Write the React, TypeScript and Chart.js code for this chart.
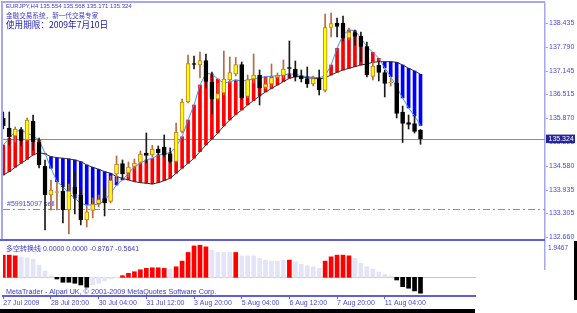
import React, { useEffect, useRef } from 'react';
import { Chart, registerables } from 'chart.js';
Chart.register(...registerables);

// ---------- data ----------
const TIME_TICK_BARS = [0, 8, 16, 24, 32, 40, 48, 56, 64];
const TIME_LABELS = ['27 Jul 2009', '28 Jul 20:00', '30 Jul 04:00', '31 Jul 12:00', '3 Aug 20:00', '5 Aug 04:00', '6 Aug 12:00', '7 Aug 20:00', '11 Aug 04:00'];
const PRICE_TICKS = [132.66, 133.305, 133.935, 134.58, 135.225, 135.87, 136.515, 137.145, 137.79, 138.435];

const OPEN = [135.880,135.610,135.394,135.570,135.286,135.799,135.232,134.585,133.802,133.870,133.910,133.398,134.018,133.802,133.128,133.384,133.573,133.708,133.627,134.369,134.652,134.396,134.571,134.679,134.936,134.882,135.044,135.098,134.909,134.706,135.516,136.312,137.351,137.310,137.432,136.851,136.393,136.555,136.905,137.067,137.324,136.460,136.932,137.040,136.703,136.797,136.973,137.027,137.243,137.202,137.013,136.946,136.797,136.946,136.622,138.322,138.443,138.443,138.039,138.187,138.093,137.809,137.000,137.310,137.108,136.824,136.824,136.042,135.759,135.732,135.554];
const HIGH = [136.042,136.042,135.637,135.624,135.880,135.961,135.340,134.747,134.207,134.153,134.099,134.099,134.423,133.937,133.506,133.721,133.802,133.991,134.315,134.855,134.747,134.693,134.774,134.990,135.475,135.138,135.124,135.421,135.071,135.745,136.393,137.580,137.553,137.661,137.607,137.121,136.824,137.688,137.526,137.512,137.391,137.040,137.607,137.175,136.959,137.337,137.094,137.445,137.958,137.418,137.175,137.256,137.013,137.175,138.686,138.713,138.578,138.632,138.308,138.255,138.201,137.931,137.391,137.405,137.175,136.959,136.959,136.204,135.961,135.934,135.568];
const LOW = [135.583,135.151,135.232,135.124,135.259,135.017,134.531,132.858,133.398,133.398,133.047,132.750,133.290,132.993,132.939,133.182,133.479,133.236,133.586,134.153,134.234,134.288,134.504,134.639,134.666,134.828,134.882,134.828,134.666,134.693,135.475,136.285,137.202,136.959,136.689,135.988,136.366,136.501,136.824,137.013,136.366,136.420,136.824,136.231,136.663,136.716,136.959,136.959,136.959,136.878,136.851,136.703,136.743,136.501,136.582,138.066,138.066,137.958,137.985,137.836,137.405,136.986,136.905,136.878,136.447,136.743,135.880,135.219,135.583,135.475,135.171];
const CLOSE = [135.664,135.367,135.583,135.273,135.826,135.232,134.612,133.802,133.937,133.883,133.398,133.910,133.829,133.128,133.344,133.559,133.681,133.586,134.194,134.639,134.369,134.558,134.666,134.909,134.868,135.044,134.936,134.882,134.706,135.502,136.312,137.351,137.324,137.432,136.865,136.393,136.541,136.932,137.108,137.324,136.420,136.919,137.040,136.689,136.797,136.973,137.027,137.202,137.216,136.986,136.932,136.797,136.946,136.636,138.322,138.430,138.349,138.039,138.201,138.079,137.809,137.040,137.283,137.108,136.811,136.838,136.001,135.732,135.705,135.516,135.324];

const SPAN_A = [135.151,135.332,135.510,135.556,135.467,135.394,135.286,134.927,134.523,134.161,134.026,133.848,133.713,133.578,133.532,133.532,133.559,133.648,133.848,134.072,134.207,134.388,134.566,134.658,134.747,134.793,134.882,134.909,134.944,135.106,135.375,135.826,136.231,136.770,137.086,137.067,136.932,136.816,136.860,136.905,136.878,136.897,136.932,136.967,136.994,137.005,137.021,137.040,137.067,137.059,137.021,136.994,136.978,136.967,137.013,137.310,137.761,138.120,138.255,138.236,138.039,137.804,137.653,137.491,137.229,136.994,136.716,136.420,136.150,135.934,135.678];
const SPAN_B = [134.342,134.431,134.550,134.658,134.766,134.882,134.944,134.909,134.836,134.809,134.793,134.774,134.747,134.701,134.612,134.550,134.496,134.431,134.388,134.296,134.253,134.207,134.161,134.134,134.118,134.099,134.134,134.188,134.253,134.388,134.523,134.658,134.793,134.971,135.151,135.313,135.475,135.664,135.826,135.974,136.096,136.231,136.352,136.474,136.582,136.676,136.770,136.860,136.951,136.994,136.994,136.967,136.951,136.932,136.967,137.040,137.113,137.175,137.221,137.264,137.310,137.337,137.383,137.399,137.399,137.399,137.383,137.310,137.221,137.148,137.059];

const OSC = [1.222,1.222,1.184,1.129,1.074,1.003,0.674,0.345,0.088,-0.093,-0.274,-0.274,-0.329,-0.422,-0.548,-0.422,-0.329,-0.203,-0.093,-0.030,0.088,0.219,0.307,0.416,0.493,0.526,0.526,0.493,0.455,0.581,0.893,1.370,1.730,1.770,1.680,1.500,1.370,1.370,1.370,1.370,1.184,1.184,1.184,1.040,0.948,0.893,0.893,0.948,0.948,0.855,0.712,0.636,0.581,0.493,0.893,1.129,1.222,1.222,1.184,1.040,0.767,0.581,0.455,0.290,0.153,0.071,-0.148,-0.515,-0.603,-0.751,-0.8767];
const OSC_STATE = 'RRRLLLLLLBBBBBBLLLLLRRRRRRRRLRRRRRRLLLLRLLLLLLLLRLLLLLRRRRRLLLLLLLBBBBB';

const SYMBOL_LINE = 'EURJPY,H4 135.554 135.568 135.171 135.324';
const SUBTITLE = '金融交易系统，新一代交易专家';
const EXPIRY = '使用期限：2009年7月10日';
const OSC_TITLE = '多空转换线 0.0000 0.0000 -0.8767 -0.5641';
const FOOTER = 'MetaTrader - Alpari UK, © 2001-2009 MetaQuotes Software Corp.';
const ORDER_TEXT = '#59915097 sell';
const BID = 135.324;
const ORDER_PRICE = 133.42;
const OSC_MAX = 1.9467;

// ---------- style ----------
const X_MIN = -0.05;
const X_MAX = X_MIN + 542 / 5.96;
const LAV = '#a6a6f2';
const BLUE_LINE = '#5e5ede';
const AXIS_TEXT = '#4a4ad6';
const TEXT_BLUE = '#3b3bc8';
const FONT = '"Liberation Sans", Arial, sans-serif';
const CJK = '"Noto Sans CJK SC", "Noto Sans CJK JP", sans-serif';

const idx = OPEN.map((_, i) => i);
const isBull = (i: number) => CLOSE[i] >= OPEN[i];

export default function App() {
  const mainRef = useRef<HTMLCanvasElement>(null);
  const subRef = useRef<HTMLCanvasElement>(null);

  useEffect(() => {
    const mainOverlay = {
      id: 'mainOverlay',
      beforeDatasetsDraw(chart: any) {
        const { ctx, chartArea: a, scales } = chart;
        const y = scales.y;
        ctx.save();
        ctx.fillStyle = LAV;
        ctx.fillRect(2, 1, a.right - 2, 2);
        ctx.fillRect(1, 1, 2, 239);
        const yb = Math.round(y.getPixelForValue(BID)) + 0.5;
        ctx.strokeStyle = '#8c8c9c';
        ctx.lineWidth = 1;
        ctx.beginPath();
        ctx.moveTo(a.left, yb);
        ctx.lineTo(a.right, yb);
        ctx.stroke();
        const yo = Math.round(y.getPixelForValue(ORDER_PRICE)) + 0.5;
        ctx.strokeStyle = '#4cc04c';
        ctx.setLineDash([7, 3, 2, 3]);
        ctx.beginPath();
        ctx.moveTo(a.left, yo);
        ctx.lineTo(a.right, yo);
        ctx.stroke();
        ctx.setLineDash([]);
        ctx.fillStyle = '#4646e6';
        ctx.font = `7px ${FONT}`;
        ctx.textBaseline = 'middle';
        ctx.fillText(ORDER_TEXT, 7, yo - 5);
        ctx.restore();
      },
      afterDraw(chart: any) {
        const { ctx, chartArea: a, scales } = chart;
        const y = scales.y;
        ctx.save();
        ctx.textBaseline = 'middle';
        ctx.textAlign = 'left';
        ctx.fillStyle = TEXT_BLUE;
        ctx.font = `6px ${FONT}`;
        ctx.fillText(SYMBOL_LINE, 6, 6.8);
        ctx.font = `6.6px ${CJK}`;
        ctx.fillText(SUBTITLE, 6, 15.6);
        ctx.fillStyle = '#1414b4';
        ctx.font = `8.6px ${CJK}`;
        ctx.fillText(EXPIRY, 6, 25);
        ctx.fillStyle = BLUE_LINE;
        ctx.fillRect(0, 239, a.right, 2);
        const yb = y.getPixelForValue(BID);
        ctx.fillStyle = '#24249e';
        ctx.fillRect(546, yb - 4, 29, 8.5);
        ctx.fillStyle = '#ffffff';
        ctx.font = `7px ${FONT}`;
        ctx.fillText(BID.toFixed(3), 548.5, yb + 0.3);
        ctx.restore();
      },
    };

    const subOverlay = {
      id: 'subOverlay',
      beforeDatasetsDraw(chart: any) {
        const { ctx, chartArea: a, scales } = chart;
        const y0 = Math.round(scales.y.getPixelForValue(0)) + 0.5;
        ctx.save();
        ctx.strokeStyle = '#c4c4c4';
        ctx.lineWidth = 1;
        ctx.beginPath();
        ctx.moveTo(a.left, y0);
        ctx.lineTo(a.right, y0);
        ctx.stroke();
        ctx.restore();
      },
      afterDraw(chart: any) {
        const { ctx } = chart;
        ctx.save();
        ctx.textBaseline = 'middle';
        ctx.fillStyle = TEXT_BLUE;
        ctx.font = `7px ${FONT}, ${CJK}`;
        ctx.fillText(OSC_TITLE, 6, 8.5);
        ctx.font = `7.2px ${FONT}`;
        ctx.fillText(FOOTER, 6, 50.7);
        ctx.fillStyle = '#ffffff';
        ctx.fillRect(476, 29, 98, 43);
        ctx.fillStyle = '#000000';
        ctx.fillRect(0, 68, 475, 4);
        ctx.fillRect(574, 0, 3, 59);
        ctx.restore();
      },
    };

    const candleColor = (i: number) => (isBull(i) ? '#ffff00' : '#000000');
    const candleBorder = (i: number) => (isBull(i) ? '#c07a2c' : '#000000');
    const wickColor = (i: number) => (isBull(i) ? '#b46a42' : '#1a1a1a');

    const main = new Chart(mainRef.current!, {
      type: 'bar',
      data: {
        datasets: [
          {
            type: 'bar',
            data: idx.map((i) => ({ x: i, y: [SPAN_A[i], SPAN_B[i]] })) as any,
            backgroundColor: idx.map((i) => (SPAN_A[i] >= SPAN_B[i] ? '#ff0000' : '#0000ff')),
            barThickness: 3,
            grouped: false,
            order: 10,
          },
          {
            type: 'line',
            data: idx.map((i) => ({ x: i, y: SPAN_B[i] })),
            borderColor: '#303030',
            borderWidth: 1,
            pointRadius: 0,
            order: 9,
          },
          {
            type: 'line',
            data: idx.map((i) => ({ x: i, y: SPAN_A[i] })),
            borderColor: '#3c96ff',
            borderWidth: 1,
            pointRadius: 0,
            order: 8,
          },
          {
            type: 'bar',
            data: idx.map((i) => ({ x: i, y: [LOW[i], HIGH[i]] })) as any,
            backgroundColor: idx.map(wickColor),
            barThickness: 1,
            grouped: false,
            order: 2,
          },
          {
            type: 'bar',
            data: idx.map((i) => ({ x: i, y: [OPEN[i], CLOSE[i]] })) as any,
            backgroundColor: idx.map(candleColor),
            borderColor: idx.map(candleBorder),
            borderWidth: 1,
            borderSkipped: false,
            minBarLength: 1,
            barThickness: 4,
            grouped: false,
            order: 1,
          },
        ] as any,
      },
      options: {
        animation: false,
        responsive: false,
        maintainAspectRatio: false,
        devicePixelRatio: 1,
        layout: { padding: { left: 3, top: 3, right: 0, bottom: 1 } },
        plugins: { legend: { display: false }, tooltip: { enabled: false } },
        scales: {
          x: { type: 'linear', min: X_MIN, max: X_MAX, offset: false, display: false, grid: { offset: false } },
          y: {
            type: 'linear',
            position: 'right',
            min: 132.587,
            max: 138.983,
            afterBuildTicks: (s: any) => {
              s.ticks = PRICE_TICKS.map((v) => ({ value: v }));
            },
            afterFit: (s: any) => {
              s.width = 32;
              s.paddingTop = 0;
              s.paddingBottom = 0;
            },
            ticks: {
              autoSkip: false,
              padding: 1,
              color: AXIS_TEXT,
              font: { family: FONT, size: 7 },
              callback: (v: any) => Number(v).toFixed(3),
            },
            grid: { drawOnChartArea: false, tickLength: 3, color: LAV },
            border: { color: LAV, width: 1.5 },
          },
        },
      } as any,
      plugins: [mainOverlay],
    });

    const oscColor = (c: string) => (c === 'R' ? '#ff0000' : c === 'B' ? '#000000' : '#e4e4f8');

    const sub = new Chart(subRef.current!, {
      type: 'bar',
      data: {
        datasets: [
          {
            data: idx.map((i) => ({ x: i, y: OSC[i] })) as any,
            backgroundColor: idx.map((i) => oscColor(OSC_STATE[i])),
            barThickness: 4,
            grouped: false,
          },
        ],
      },
      options: {
        animation: false,
        responsive: false,
        maintainAspectRatio: false,
        devicePixelRatio: 1,
        layout: { padding: { left: 3, top: 1, right: 0, bottom: 0 } },
        plugins: { legend: { display: false }, tooltip: { enabled: false } },
        scales: {
          x: {
            type: 'linear',
            min: X_MIN,
            max: X_MAX,
            offset: false,
            position: 'bottom',
            afterBuildTicks: (s: any) => {
              s.ticks = TIME_TICK_BARS.map((v) => ({ value: v }));
            },
            afterFit: (s: any) => {
              s.height = 17;
              s.paddingLeft = 0;
              s.paddingRight = 0;
            },
            ticks: {
              autoSkip: false,
              maxRotation: 0,
              minRotation: 0,
              align: 'start',
              padding: 0,
              color: AXIS_TEXT,
              font: { family: FONT, size: 7 },
              callback: (v: any) => {
                const k = TIME_TICK_BARS.indexOf(Number(v));
                return k >= 0 ? TIME_LABELS[k] : '';
              },
            },
            grid: { offset: false, drawOnChartArea: false, tickLength: 3, color: BLUE_LINE },
            border: { color: BLUE_LINE, width: 2 },
          },
          y: {
            type: 'linear',
            position: 'right',
            min: -1.031,
            max: OSC_MAX,
            afterBuildTicks: (s: any) => {
              s.ticks = [{ value: OSC_MAX }];
            },
            afterFit: (s: any) => {
              s.width = 32;
              s.paddingTop = 0;
              s.paddingBottom = 0;
            },
            ticks: {
              padding: 3,
              labelOffset: 5.7,
              color: AXIS_TEXT,
              font: { family: FONT, size: 6.6 },
              callback: (v: any) => Number(v).toFixed(4),
            },
            grid: { display: false, drawTicks: false, tickLength: 0 },
            border: { color: LAV, width: 1.5 },
          },
        },
      } as any,
      plugins: [subOverlay],
    });

    return () => {
      main.destroy();
      sub.destroy();
    };
  }, []);

  return (
    <div style={{ position: 'fixed', left: 0, top: 0, width: 577, height: 313, background: '#ffffff', overflow: 'hidden' }}>
      <canvas ref={mainRef} width={577} height={241} style={{ position: 'absolute', left: 0, top: 0, width: 577, height: 241 }} />
      <canvas ref={subRef} width={577} height={72} style={{ position: 'absolute', left: 0, top: 241, width: 577, height: 72 }} />
    </div>
  );
}
